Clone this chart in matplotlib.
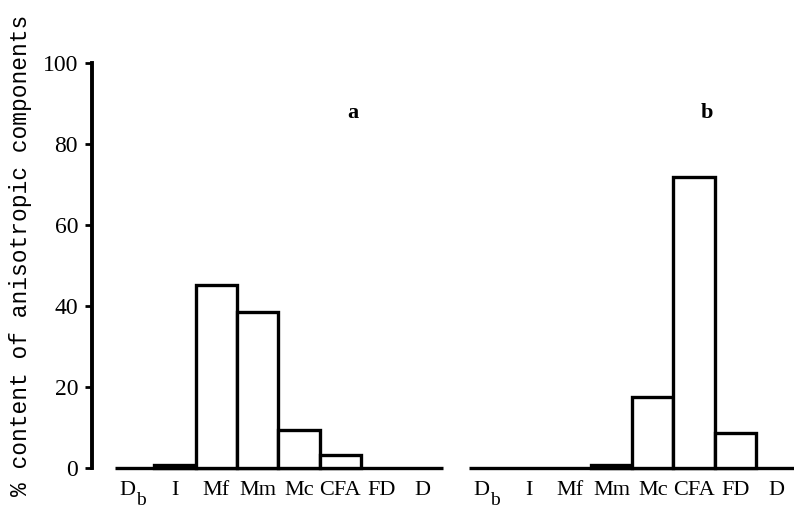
import matplotlib
matplotlib.use("Agg")
import matplotlib.pyplot as plt
import matplotlib.transforms as mtransforms
import numpy as np

# classes along the x axis (same for both panels); "D_b" gets a subscript
categories = ['D_b', 'I', 'Mf', 'Mm', 'Mc', 'CFA', 'FD', 'D']
# % content of anisotropic components
panel_a = [0, 0.8, 45.2, 38.5, 9.4, 3.2, 0, 0]
panel_b = [0, 0, 0, 0.7, 17.5, 71.9, 8.7, 0]
panel_names = ['a', 'b']

plt.rcParams['font.family'] = ['Liberation Serif', 'DejaVu Serif']

fig = plt.figure(figsize=(7.94, 5.08), dpi=100)
ax = fig.add_axes([92 / 794, 40 / 508, 702 / 794, 405 / 508])
trans = mtransforms.blended_transform_factory(ax.transData, ax.transAxes)

offset_b = 8.57
lw = 2.4
for off, vals, name in zip([0, offset_b], [panel_a, panel_b], panel_names):
    x = np.arange(len(vals)) + off
    vals = np.array(vals)
    keep = vals > 0
    ax.bar(x[keep], vals[keep], width=1, align='edge', facecolor='white',
           edgecolor='black', linewidth=lw, clip_on=False, zorder=3)
    # baseline of each panel
    ax.plot([x[0] + 0.05, x[-1] + 1], [0, 0], color='black', lw=lw,
            solid_capstyle='butt', clip_on=False, zorder=2)
    ax.text(x[0] + 5.8, 87.7, name, ha='center', va='center',
            fontsize=16, fontweight='bold')
    # category labels under the bins
    for xi, c in zip(x, categories):
        if '_' in c:
            main, sub = c.split('_')
            ax.text(xi + 0.55, -0.067, main, transform=trans, ha='right',
                    va='baseline', fontsize=16)
            ax.text(xi + 0.55, -0.092, sub, transform=trans, ha='left',
                    va='baseline', fontsize=14)
        else:
            ax.text(xi + 0.5, -0.067, c, transform=trans, ha='center',
                    va='baseline', fontsize=16)

ax.set_xlim(-0.51, 16.49)
ax.set_ylim(0, 100)
ax.set_yticks([0, 20, 40, 60, 80, 100])
ax.set_xticks([])
ax.tick_params(axis='y', direction='out', length=5, width=2, pad=5,
               labelsize=17)

for s in ['top', 'right', 'bottom']:
    ax.spines[s].set_visible(False)
ax.spines['left'].set_linewidth(2.8)

fig.text(0.026, 0.498, '% content of anisotropic components', rotation=90,
         ha='center', va='center', fontsize=16.5, family='Liberation Mono')

fig.savefig('out.png', dpi=100)
